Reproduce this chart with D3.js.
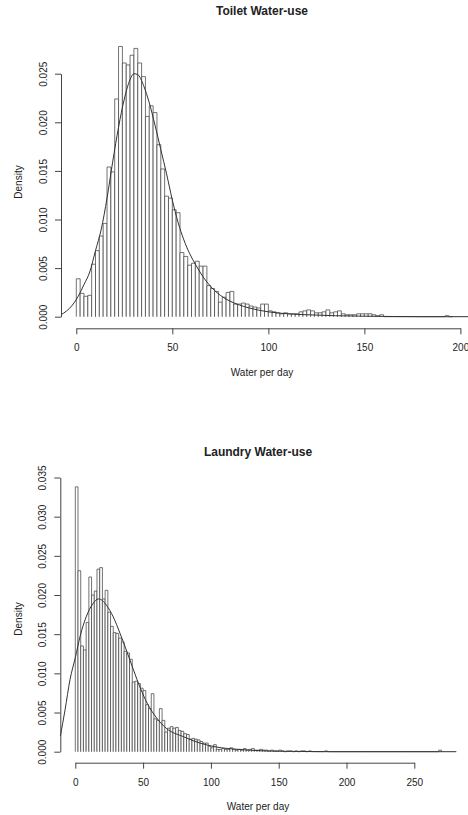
<!DOCTYPE html>
<html>
<head>
<meta charset="utf-8">
<script src="https://cdn.jsdelivr.net/npm/d3@7"></script>
<style>
  body { margin: 0; background: #fff; }
  text { font-family: "Liberation Sans", Arial, sans-serif; fill: #222; }
</style>
</head>
<body>
<div id="chart"></div>
<script>
// histogram densities, bin width 2, starting at 0
const toiletDensity = [
  0.0039, 0.0024, 0.0021, 0.0022, 0.0054, 0.0068, 0.0083, 0.0096, 0.0154, 0.0149,
  0.0224, 0.0278, 0.0261, 0.0259, 0.0269, 0.0276, 0.0261, 0.0247, 0.0206, 0.0217,
  0.0210, 0.0177, 0.0152, 0.0124, 0.0122, 0.0110, 0.0107, 0.0066, 0.0062, 0.0053,
  0.0055, 0.0057, 0.0052, 0.0052, 0.0032, 0.0029, 0.0026, 0.0015, 0.0020, 0.0025,
  0.0026, 0.0013, 0.0013, 0.0014, 0.0013, 0.0011, 0.0010, 0.0009, 0.0013, 0.0013,
  0.0006, 0.0005, 0.0004, 0.0003, 0.0004, 0.0003, 0.0003, 0.0003, 0.0005, 0.0006,
  0.0007, 0.0006, 0.0004, 0.0004, 0.0005, 0.0007, 0.0004, 0.0005, 0.0006, 0.0003,
  0.0002, 0.0002, 0.0002, 0.0003, 0.0003, 0.0003, 0.0003, 0.0002, 0.0001, 0.0002,
  0, 0, 0, 0, 0, 0, 0, 0, 0, 0,
  0, 0, 0, 0, 0, 0, 0.0001, 0
];

const laundryDensity = [
  0.0338, 0.0231, 0.0135, 0.0130, 0.0165, 0.0223, 0.0200, 0.0205, 0.0233, 0.0235,
  0.0195, 0.0206, 0.0178, 0.0160, 0.0152, 0.0151, 0.0145, 0.0140, 0.0128, 0.0126,
  0.0118, 0.0089, 0.0090, 0.0087, 0.0081, 0.0078, 0.0060, 0.0055, 0.0074, 0.0042,
  0.0040, 0.0055, 0.0040, 0.0025, 0.0030, 0.0032, 0.0030, 0.0031, 0.0027, 0.0026,
  0.0023, 0.0022, 0.0016, 0.0017, 0.0016, 0.0015, 0.0013, 0.0011, 0.0011, 0.0007,
  0.0005, 0.0009, 0.0003, 0.0003, 0.0004, 0.0003, 0.0003, 0.0005, 0.0003, 0.0002,
  0.0003, 0.0002, 0.0004, 0.0002, 0.0003, 0.0004, 0.0002, 0.0002, 0.0003, 0.0002,
  0.0002, 0.0001, 0.0002, 0.0001, 0.0001, 0.0002, 0.0001, 0, 0.0001, 0.0001,
  0, 0.0001, 0, 0.0001, 0.0001, 0, 0.0001, 0, 0, 0,
  0, 0, 0.0001, 0, 0, 0, 0, 0, 0, 0,
  0, 0, 0, 0, 0, 0, 0, 0, 0, 0,
  0, 0, 0, 0, 0, 0, 0, 0, 0, 0,
  0, 0, 0, 0, 0, 0, 0, 0, 0, 0,
  0, 0, 0, 0, 0.0002
];

// fitted density curves
const toiletCurveX = [-8, -5, -2, 1, 4, 7, 10, 13, 16, 19, 22, 25, 28, 30, 32, 35, 38, 41, 44, 47,
  50, 53, 56, 59, 62, 66, 70, 75, 80, 85, 90, 100, 110, 120, 135, 150, 165, 180, 208];
const toiletCurveY = [0.0002, 0.0006, 0.0012, 0.0021, 0.0033, 0.0046, 0.0068, 0.0090, 0.0122, 0.0160,
  0.0195, 0.0224, 0.0244, 0.0250, 0.0249, 0.0238, 0.0220, 0.0197, 0.0172, 0.0147,
  0.0120, 0.0097, 0.0079, 0.0065, 0.0054, 0.0041, 0.0031, 0.0022, 0.0016, 0.0012,
  0.0009, 0.0005, 0.0003, 0.0002, 0.0001, 0.00005, 0.00002, 0, 0];

const laundryCurveX = [-11, -7.6, -3.9, 0, 3.5, 8, 13, 17, 20, 23, 28, 33, 38, 43, 48, 53, 60, 67,
  80, 92, 104, 120, 140, 160, 190, 281];
const laundryCurveY = [0.0020, 0.0053, 0.0092, 0.0120, 0.0147, 0.0172, 0.0189, 0.0195, 0.0193, 0.0187,
  0.0172, 0.0151, 0.0128, 0.0104, 0.0081, 0.0062, 0.0043, 0.0030, 0.0019, 0.0011,
  0.0006, 0.0003, 0.0001, 0.00004, 0, 0];

const toiletTicksX = [0, 50, 100, 150, 200];
const toiletTicksY = [0, 0.005, 0.010, 0.015, 0.020, 0.025];
const laundryTicksX = [0, 50, 100, 150, 200, 250];
const laundryTicksY = [0, 0.005, 0.010, 0.015, 0.020, 0.025, 0.030, 0.035];

const binWidth = 2;

const svg = d3.select("#chart")
  .append("svg")
  .attr("width", 468)
  .attr("height", 815);

function drawPanel(p) {
  const x = d3.scaleLinear().domain([0, p.xMax]).range([p.x0, p.x1]);
  const y = d3.scaleLinear().domain([0, p.yMax]).range([p.y0, p.y1]);

  const g = svg.append("g");

  // bars (paths so empty bins still show as a line on the baseline)
  g.selectAll(".bar")
    .data(p.density)
    .enter()
    .append("path")
    .attr("class", "bar")
    .attr("d", (d, i) => {
      const a = x(i * binWidth), b = x((i + 1) * binWidth);
      return `M${a},${y(0)}V${y(d)}H${b}V${y(0)}`;
    })
    .attr("fill", "#fff")
    .attr("stroke", "#444")
    .attr("stroke-width", 0.75);

  // density curve
  const line = d3.line()
    .x((d, i) => x(p.curveX[i]))
    .y(d => y(d))
    .curve(d3.curveMonotoneX);
  g.append("path")
    .attr("d", line(p.curveY))
    .attr("fill", "none")
    .attr("stroke", "#333")
    .attr("stroke-width", 1);

  // x axis
  const xAxis = g.append("g")
    .attr("transform", `translate(0, ${p.axisY})`)
    .call(d3.axisBottom(x).tickValues(p.ticksX).tickSize(6).tickPadding(10).tickSizeOuter(0));
  xAxis.select(".domain").attr("stroke", "#444");
  xAxis.selectAll(".tick line").attr("stroke", "#444");
  xAxis.selectAll("text").style("font-size", "10px").style("font-family", "Liberation Sans, Arial, sans-serif").attr("fill", "#222");

  // y axis with rotated labels
  const yAxis = g.append("g")
    .attr("transform", `translate(${p.axisX}, 0)`)
    .call(d3.axisLeft(y).tickValues(p.ticksY).tickFormat(d3.format(".3f")).tickSize(6).tickSizeOuter(0));
  yAxis.select(".domain").attr("stroke", "#444");
  yAxis.selectAll(".tick line").attr("stroke", "#444");
  yAxis.selectAll("text")
    .attr("transform", "rotate(-90)")
    .attr("x", 0)
    .attr("y", -14)
    .attr("dy", 0)
    .attr("text-anchor", "middle")
    .attr("fill", "#222")
    .style("font-size", "10px")
    .style("font-family", "Liberation Sans, Arial, sans-serif");

  // titles and labels
  svg.append("text")
    .attr("x", p.titleX)
    .attr("y", p.titleY)
    .attr("text-anchor", "middle")
    .style("font-size", "12px")
    .style("font-weight", "bold")
    .text(p.title);

  svg.append("text")
    .attr("x", p.titleX)
    .attr("y", p.xLabelY)
    .attr("text-anchor", "middle")
    .style("font-size", "10px")
    .text("Water per day");

  svg.append("text")
    .attr("transform", `translate(21.5, ${p.yLabelY}) rotate(-90)`)
    .attr("text-anchor", "middle")
    .style("font-size", "10px")
    .text("Density");
}

drawPanel({
  density: toiletDensity, curveX: toiletCurveX, curveY: toiletCurveY,
  ticksX: toiletTicksX, ticksY: toiletTicksY,
  xMax: 200, yMax: 0.025,
  x0: 76.3, x1: 460.4, y0: 316.7, y1: 73.7,
  axisX: 61, axisY: 328.3,
  title: "Toilet Water-use", titleX: 262, titleY: 15, xLabelY: 376, yLabelY: 182
});

drawPanel({
  density: laundryDensity, curveX: laundryCurveX, curveY: laundryCurveY,
  ticksX: laundryTicksX, ticksY: laundryTicksY,
  xMax: 250, yMax: 0.035,
  x0: 75.3, x1: 414.3, y0: 751.7, y1: 477.5,
  axisX: 60.3, axisY: 762.7,
  title: "Laundry Water-use", titleX: 258, titleY: 455.5, xLabelY: 810, yLabelY: 619
});
</script>
</body>
</html>
